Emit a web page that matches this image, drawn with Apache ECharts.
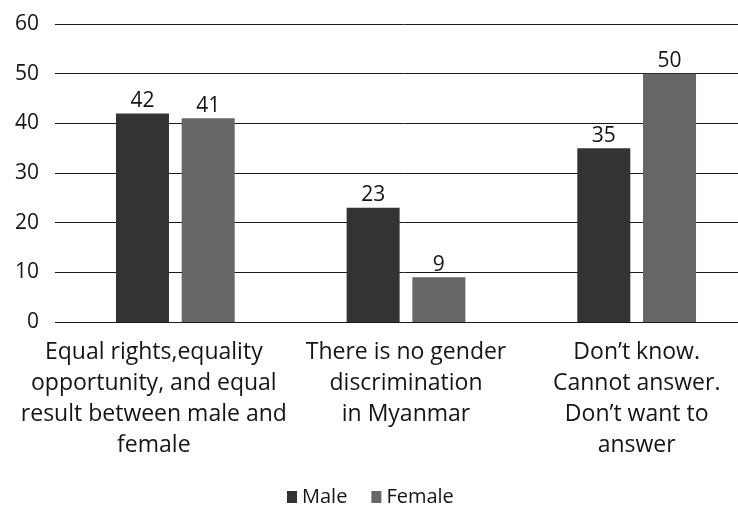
<!DOCTYPE html>
<html>
<head>
<meta charset="utf-8">
<script src="https://cdn.jsdelivr.net/npm/echarts@6/dist/echarts.min.js"></script>
<style>
  html, body { margin: 0; padding: 0; background: #fff; overflow: hidden; width: 738px; height: 509px; }
  /* the plot area runs slightly past the right edge of the page */
  #chart { width: 752px; height: 509px; }
</style>
</head>
<body>
<div id="chart"></div>
<script>
// Survey responses on gender equality, by sex (%)
const categories = [
  'Equal rights,equality\nopportunity, and equal\nresult between male and\nfemale',
  'There is no gender\ndiscrimination\nin Myanmar',
  'Don\u2019t know.\nCannot answer.\nDon\u2019t want to\nanswer'
];
const maleValues = [42, 23, 35];
const femaleValues = [41, 9, 50];
const seriesNames = ['Male', 'Female'];
const yTicks = { min: 0, max: 60, step: 10 };

const FONT = 'Open Sans';
const INK = '#151515';

const chart = echarts.init(document.getElementById('chart'));
chart.setOption({
  animation: false,
  textStyle: { fontFamily: FONT, color: INK },
  grid: [
    // bars
    { left: 60, right: 0, top: 24, bottom: 187 },
    // horizontal gridlines spanning the full plot width
    { left: 55, right: 0, top: 24, bottom: 187 }
  ],
  legend: {
    data: seriesNames,
    top: 482,
    left: 282,
    itemWidth: 10,
    itemHeight: 12,
    itemGap: 24,
    icon: 'rect',
    textStyle: { fontFamily: FONT, fontSize: 20, color: INK }
  },
  xAxis: [
    {
      type: 'category',
      gridIndex: 0,
      data: categories,
      axisLine: { show: false },
      axisTick: { show: false },
      axisLabel: {
        interval: 0,
        margin: 15,
        formatter: function (value, idx) {
          return idx === 0 ? '{first|' + value + '}' : '{base|' + value + '}';
        },
        rich: {
          base: { fontFamily: FONT, fontSize: 23, lineHeight: 31, color: INK },
          first: { fontFamily: FONT, fontSize: 23, lineHeight: 31, color: INK, padding: [0, 43, 0, 0] }
        }
      }
    },
    {
      type: 'value',
      gridIndex: 1,
      show: false
    }
  ],
  yAxis: [
    {
      type: 'value',
      gridIndex: 0,
      min: yTicks.min,
      max: yTicks.max,
      interval: yTicks.step,
      axisLine: { show: false },
      axisTick: { show: false },
      axisLabel: { show: false },
      splitLine: { show: false }
    },
    {
      type: 'value',
      gridIndex: 1,
      min: yTicks.min,
      max: yTicks.max,
      interval: yTicks.step,
      axisLine: { show: false },
      axisTick: { show: false },
      axisLabel: { fontFamily: FONT, fontSize: 21, color: INK, margin: 16 },
      splitLine: { lineStyle: { color: '#1a1a1a', width: 1 } }
    }
  ],
  series: [
    {
      name: seriesNames[0],
      type: 'bar',
      xAxisIndex: 0,
      yAxisIndex: 0,
      data: maleValues,
      barWidth: 53,
      barGap: '24%',
      z: 3,
      itemStyle: { color: '#333333' },
      label: { show: true, position: 'top', distance: 2, fontFamily: FONT, fontSize: 21, color: INK }
    },
    {
      name: seriesNames[1],
      type: 'bar',
      xAxisIndex: 0,
      yAxisIndex: 0,
      data: femaleValues,
      barWidth: 53,
      barGap: '24%',
      z: 3,
      itemStyle: { color: '#666666' },
      label: { show: true, position: 'top', distance: 2, fontFamily: FONT, fontSize: 21, color: INK }
    }
  ]
});
</script>
</body>
</html>
